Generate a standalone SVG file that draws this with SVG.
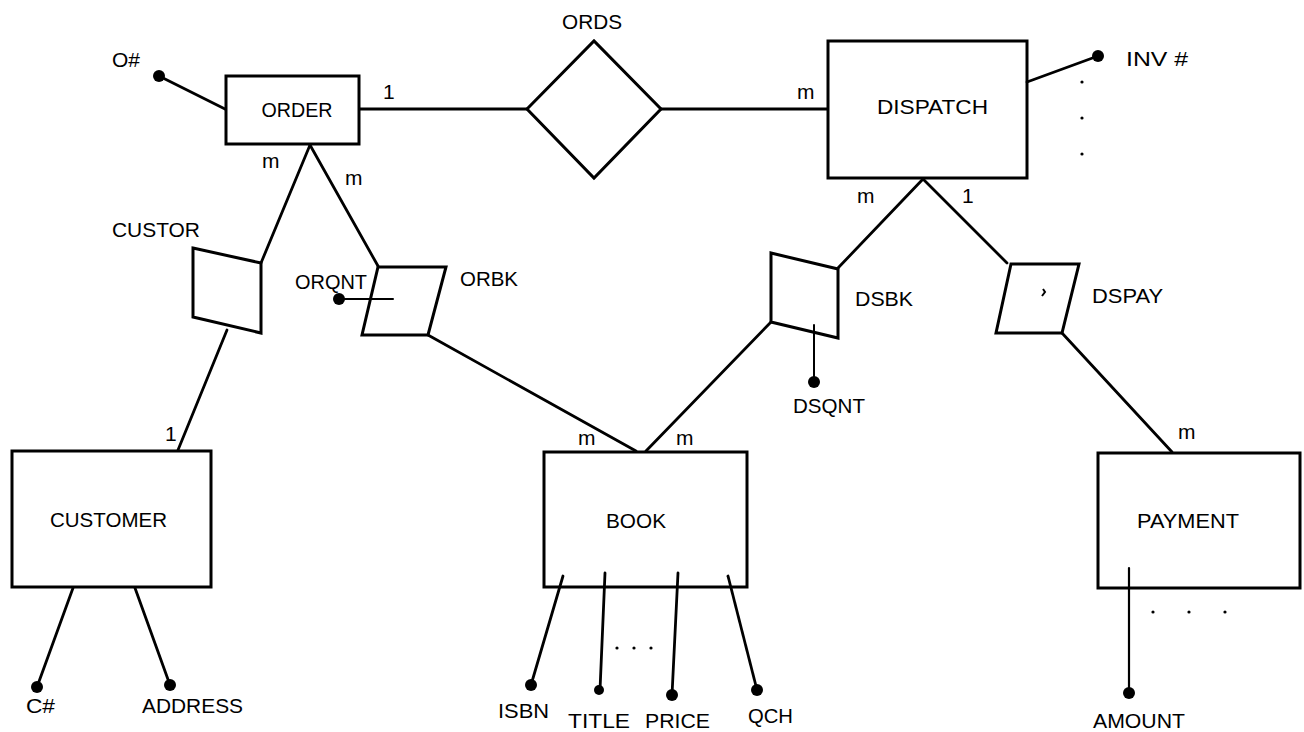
<svg xmlns="http://www.w3.org/2000/svg" width="1304" height="732" viewBox="0 0 1304 732">
<style>
.ln{stroke:#000;stroke-width:2.8;fill:none;stroke-linecap:round;stroke-linejoin:miter}
.bx{stroke:#000;stroke-width:3;fill:#fff}
.t{font-family:"Liberation Sans",Arial,sans-serif;font-size:21px;fill:#000}
.dot{fill:#000}
.sd{fill:#000}
</style>
<rect width="1304" height="732" fill="#fff"/>
<g id="connectors">
  <line class="ln" x1="359" y1="109" x2="527" y2="109"/>
  <line class="ln" x1="661" y1="109" x2="828" y2="109"/>
  <line class="ln" x1="310" y1="145" x2="261" y2="263"/>
  <line class="ln" x1="310" y1="145" x2="378" y2="266"/>
  <line class="ln" x1="227" y1="330" x2="178" y2="450"/>
  <line class="ln" x1="428" y1="335" x2="636" y2="451"/>
  <line class="ln" x1="923" y1="179" x2="838" y2="268"/>
  <line class="ln" x1="923" y1="179" x2="1007" y2="263"/>
  <line class="ln" x1="771" y1="322" x2="646" y2="451"/>
  <line class="ln" x1="1062" y1="333" x2="1172" y2="452"/>
</g>
<g id="order">
  <rect class="bx" x="226" y="76" width="133" height="68"/>
  <text class="t" x="297" y="117" text-anchor="middle" textLength="71" lengthAdjust="spacingAndGlyphs">ORDER</text>
  <line class="ln" x1="159" y1="76" x2="225" y2="109"/>
  <circle class="dot" cx="159" cy="76" r="6"/>
  <text class="t" x="112" y="67" textLength="28" lengthAdjust="spacingAndGlyphs">O#</text>
  <text class="t" x="383" y="99">1</text>
  <text class="t" x="262" y="168">m</text>
  <text class="t" x="345" y="185">m</text>
</g>
<g id="ords">
  <polygon class="bx" points="527,109 594,41 661,109 594,178"/>
  <text class="t" x="562" y="29" textLength="60" lengthAdjust="spacingAndGlyphs">ORDS</text>
  <text class="t" x="797" y="99">m</text>
</g>
<g id="dispatch">
  <rect class="bx" x="828" y="41" width="199" height="137"/>
  <text class="t" x="877" y="114" textLength="111" lengthAdjust="spacingAndGlyphs">DISPATCH</text>
  <line class="ln" x1="1027" y1="82" x2="1098" y2="56"/>
  <circle class="dot" cx="1098" cy="56" r="6"/>
  <text class="t" x="1126" y="66" textLength="62" lengthAdjust="spacingAndGlyphs">INV #</text>
  <circle class="sd" cx="1082" cy="82" r="1.6"/>
  <circle class="sd" cx="1082" cy="118" r="1.6"/>
  <circle class="sd" cx="1082" cy="154" r="1.6"/>
  <text class="t" x="857" y="203">m</text>
  <text class="t" x="962" y="203">1</text>
</g>
<g id="custor">
  <polygon class="bx" points="193,248 261,263 261,333 193,317"/>
  <text class="t" x="112" y="237" textLength="88" lengthAdjust="spacingAndGlyphs">CUSTOR</text>
</g>
<g id="orbk">
  <polygon class="bx" points="378,267 446,267 428,335 362,335"/>
  <text class="t" x="460" y="286" textLength="58" lengthAdjust="spacingAndGlyphs">ORBK</text>
  <line class="ln" x1="339" y1="299" x2="393" y2="299" style="stroke-width:2"/>
  <circle class="dot" cx="339" cy="299" r="6"/>
  <text class="t" x="295" y="289" textLength="72" lengthAdjust="spacingAndGlyphs">ORQNT</text>
</g>
<g id="dsbk">
  <polygon class="bx" points="771,253 838,269 838,338 771,322"/>
  <text class="t" x="855" y="306" textLength="58" lengthAdjust="spacingAndGlyphs">DSBK</text>
  <line class="ln" x1="814" y1="325" x2="814" y2="382" style="stroke-width:2"/>
  <circle class="dot" cx="814" cy="382" r="6"/>
  <text class="t" x="793" y="413" textLength="72" lengthAdjust="spacingAndGlyphs">DSQNT</text>
</g>
<g id="dspay">
  <polygon class="bx" points="1011,264 1079,264 1062,333 996,333"/>
  <path d="M1043,289 L1045,292 L1042,296" stroke="#000" stroke-width="2" fill="none"/>
  <text class="t" x="1092" y="303" textLength="71" lengthAdjust="spacingAndGlyphs">DSPAY</text>
</g>
<g id="customer">
  <rect class="bx" x="12" y="451" width="199" height="136"/>
  <text class="t" x="50" y="527" textLength="117" lengthAdjust="spacingAndGlyphs">CUSTOMER</text>
  <text class="t" x="165" y="441">1</text>
  <line class="ln" x1="73" y1="588" x2="37" y2="687"/>
  <circle class="dot" cx="37" cy="687" r="6"/>
  <text class="t" x="26" y="713" textLength="29" lengthAdjust="spacingAndGlyphs">C#</text>
  <line class="ln" x1="135" y1="588" x2="170" y2="685"/>
  <circle class="dot" cx="170" cy="685" r="6"/>
  <text class="t" x="142" y="713" textLength="101" lengthAdjust="spacingAndGlyphs">ADDRESS</text>
</g>
<g id="book">
  <rect class="bx" x="544" y="452" width="203" height="135"/>
  <text class="t" x="606" y="528" textLength="60" lengthAdjust="spacingAndGlyphs">BOOK</text>
  <text class="t" x="578" y="445">m</text>
  <text class="t" x="676" y="445">m</text>
  <line class="ln" x1="563" y1="576" x2="531" y2="685"/>
  <circle class="dot" cx="531" cy="685" r="6"/>
  <text class="t" x="498" y="718" textLength="51" lengthAdjust="spacingAndGlyphs">ISBN</text>
  <line class="ln" x1="605" y1="573" x2="600" y2="690"/>
  <circle class="dot" cx="599" cy="690" r="5"/>
  <text class="t" x="568" y="728" textLength="62" lengthAdjust="spacingAndGlyphs">TITLE</text>
  <line class="ln" x1="678" y1="573" x2="672" y2="695"/>
  <circle class="dot" cx="672" cy="695" r="6"/>
  <text class="t" x="645" y="728" textLength="65" lengthAdjust="spacingAndGlyphs">PRICE</text>
  <line class="ln" x1="728" y1="576" x2="757" y2="690"/>
  <circle class="dot" cx="757" cy="690" r="6"/>
  <text class="t" x="748" y="723" textLength="45" lengthAdjust="spacingAndGlyphs">QCH</text>
  <circle class="sd" cx="617" cy="648" r="1.6"/>
  <circle class="sd" cx="634" cy="648" r="1.6"/>
  <circle class="sd" cx="651" cy="648" r="1.6"/>
</g>
<g id="payment">
  <rect class="bx" x="1098" y="453" width="202" height="135"/>
  <text class="t" x="1137" y="528" textLength="102" lengthAdjust="spacingAndGlyphs">PAYMENT</text>
  <text class="t" x="1178" y="439">m</text>
  <line class="ln" x1="1129" y1="568" x2="1129" y2="693" style="stroke-width:2.2"/>
  <circle class="dot" cx="1129" cy="693" r="6"/>
  <text class="t" x="1093" y="728" textLength="92" lengthAdjust="spacingAndGlyphs">AMOUNT</text>
  <circle class="sd" cx="1153" cy="612" r="1.6"/>
  <circle class="sd" cx="1189" cy="612" r="1.6"/>
  <circle class="sd" cx="1225" cy="612" r="1.6"/>
</g>
</svg>
